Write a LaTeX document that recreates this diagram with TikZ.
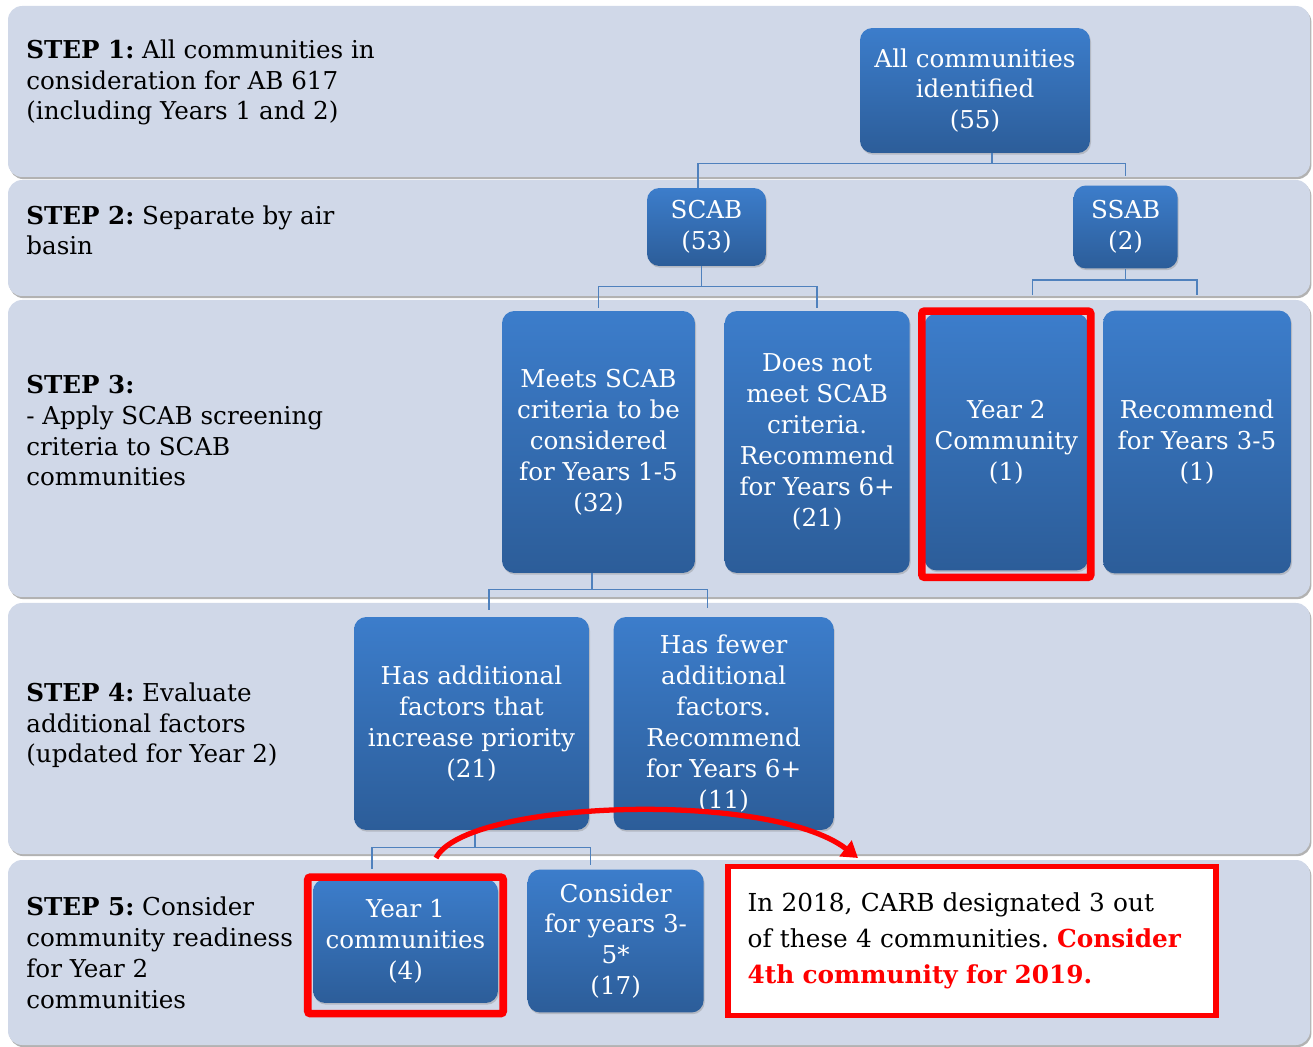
\documentclass[tikz,border=0pt]{standalone}
\usepackage{fontspec}
\setmainfont{DejaVu Serif}
\usetikzlibrary{positioning,shadows,fit,arrows.meta}
\frenchspacing

\definecolor{bandgray}{RGB}{208,216,232}
\definecolor{boxtop}{RGB}{60,125,203}
\definecolor{boxbottom}{RGB}{44,93,153}
\definecolor{linkblue}{RGB}{79,129,189}
\definecolor{markred}{RGB}{255,0,0}

\newcommand{\boxfont}{\fontsize{14}{17.6}\selectfont}
\newcommand{\notefont}{\fontsize{14.1}{20.4}\selectfont\hyphenpenalty=10000}

\tikzset{
  band/.style={fill=bandgray, rounded corners=8pt, drop shadow={shadow xshift=0.8pt, shadow yshift=-1.2pt, opacity=0.5, fill=black!60}},
  steptext/.style={anchor=base west, align=left, inner sep=0pt, font=\boxfont},
  box/.style={rectangle, rounded corners=7pt, top color=boxtop, bottom color=boxbottom, text=white, align=center, inner sep=0pt, font=\boxfont, drop shadow={shadow xshift=0.6pt, shadow yshift=-1pt, opacity=0.35}},
  link/.style={draw=linkblue, line width=0.9pt},
  redframe/.style={draw=markred, line width=4.3pt, rounded corners=1.5pt, inner sep=1.2pt},
  notebox/.style={rectangle, draw=markred, line width=3pt, fill=white, align=left, text width=8.98cm, inner xsep=0.39cm, minimum height=2.98cm, font=\notefont},
  redarrow/.style={draw=markred, line width=3pt, -{Triangle[length=9pt,width=11pt]}}
}

\begin{document}
\begin{tikzpicture}[x=0.02cm, y=-0.02cm]
\useasboundingbox (0,0) rectangle (1313,1047);
\path[band] (8,6) rectangle (1310,177);
\path[band] (8,180) rectangle (1310,296);
\path[band] (8,300) rectangle (1310,597);
\path[band] (8,603) rectangle (1310,854);
\path[band] (8,860) rectangle (1310,1045);

\node[steptext] (step1) at (26,120) {\textbf{STEP 1:} All communities in\\consideration for AB 617\\(including Years 1 and 2)};
\node[steptext] (step2) at (26,255) {\textbf{STEP 2:} Separate by air\\basin};
\node[steptext] (step3) at (26,486) {\textbf{STEP 3:}\\- Apply SCAB screening\\criteria to SCAB\\communities};
\node[steptext] (step4) at (26,763) {\textbf{STEP 4:} Evaluate\\additional factors\\(updated for Year 2)};
\node[steptext] (step5) at (26,1008) {\textbf{STEP 5:} Consider\\community readiness\\for Year 2\\communities};

\node[box, minimum width=4.6cm, minimum height=2.5cm] (all) at (975,90.5) {All communities\\identified\\(55)};
\node[box, minimum width=2.38cm, minimum height=1.56cm] (scab) at (706.5,227) {SCAB\\(53)};
\node[box, minimum width=2.08cm, minimum height=1.66cm, right=6.14cm of scab] (ssab) {SSAB\\(2)};

\node[box, minimum width=3.86cm, minimum height=5.24cm] (meets) at (598.5,442) {Meets SCAB\\criteria to be\\considered\\for Years 1-5\\(32)};
\node[box, minimum width=3.7cm, minimum height=5.24cm, right=0.58cm of meets] (doesnot) {Does not\\meet SCAB\\criteria.\\Recommend\\for Years 6+\\(21)};
\node[box, minimum width=3.28cm, minimum height=5.14cm, right=0.28cm of doesnot] (yr2) {Year 2\\Community\\(1)};
\node[box, minimum width=3.76cm, minimum height=5.26cm, right=0.28cm of yr2] (rec35) {Recommend\\for Years 3-5\\(1)};
\node[redframe, fit={(yr2) ([yshift=-2.5pt]yr2.south)}] (yr2frame) {};

\node[box, minimum width=4.7cm, minimum height=4.26cm] (hasadd) at (471.5,723.5) {Has additional\\factors that\\increase priority\\(21)};
\node[box, minimum width=4.4cm, minimum height=4.26cm, right=0.48cm of hasadd] (hasfew) {Has fewer\\additional\\factors.\\Recommend\\for Years 6+\\(11)};

\node[box, minimum width=3.7cm, minimum height=2.48cm] (yr1) at (405.5,941) {Year 1\\communities\\(4)};
\node[redframe, inner xsep=2.8pt, inner ysep=0.9pt, fit={(yr1) ([yshift=-5pt]yr1.south)}] (yr1frame) {};
\node[box, minimum width=3.52cm, minimum height=2.86cm, right=0.58cm of yr1] (cons35) {Consider\\for years 3-\\5*\\(17)};
\node[notebox, right=0.43cm of cons35] (note) {In 2018, CARB designated 3 out\\of these 4 communities. {\color{markred}\bfseries Consider\\4th community for 2019.}};

\draw[link] ([xshift=0.34cm]all.south) -- ++(0,10) coordinate (k1);
\draw[link] ([xshift=-0.17cm]scab.north) |- (k1) -| ([yshift=0.18cm]ssab.north);
\draw[link] ([xshift=-0.1cm]scab.south) -- ++(0,20) coordinate (k2);
\draw[link] ([yshift=0.06cm]meets.north) |- (k2) -| ([yshift=0.06cm]doesnot.north);
\draw[link] (ssab.south) -- ++(0,11) coordinate (k3);
\draw[link] ([xshift=0.52cm,yshift=0.36cm]yr2.north) |- (k3) -| ([yshift=0.3cm]rec35.north);
\draw[link] ([xshift=-0.13cm]meets.south) -- ++(0,16) coordinate (k4);
\draw[link] ([xshift=0.35cm,yshift=0.14cm]hasadd.north) |- (k4) -| ([xshift=-0.32cm,yshift=0.18cm]hasfew.north);
\draw[link] ([xshift=0.07cm]hasadd.south) -- ++(0,17) coordinate (k5);
\draw[link] ([xshift=-0.67cm,yshift=0.2cm]yr1.north) |- (k5) -| ([xshift=-0.5cm,yshift=0.08cm]cons35.north);

\coordinate (a0) at (436,858);
\coordinate (a1) at (858,858);
\draw[redarrow] (a0) .. controls (465,800) and (770,790) .. (a1);
\end{tikzpicture}
\end{document}
